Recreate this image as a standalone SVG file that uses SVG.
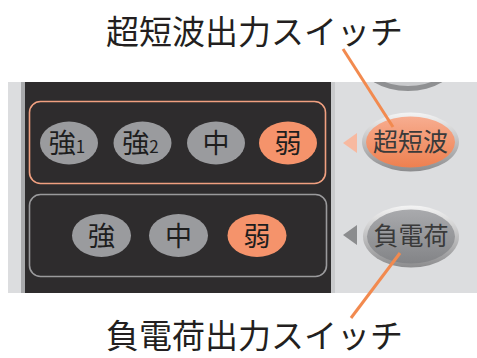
<svg xmlns="http://www.w3.org/2000/svg" width="477" height="358" viewBox="0 0 477 358">
<style>
.t{font-family:"Noto Sans CJK JP","Noto Sans CJK SC",sans-serif;fill:#231f20}
.title{font-size:33px}
.btn{font-size:27px;text-anchor:middle;fill:#1e1e1e}
.sub{font-size:17px}
.rb{font-size:25px;text-anchor:middle;fill:#3a3a3a}
.g{fill:#9a9b9e}
.o{fill:#f5936b}
.lead{stroke:#f28a4f;stroke-width:3;fill:none}
</style>
<defs>
<linearGradient id="og" x1="0" y1="0" x2="0" y2="1">
<stop offset="0" stop-color="#f7ad90"/>
<stop offset="1" stop-color="#ee8050"/>
</linearGradient>
<linearGradient id="gg" x1="0" y1="0" x2="0" y2="1">
<stop offset="0" stop-color="#a9aaad"/>
<stop offset="1" stop-color="#838487"/>
</linearGradient>
<linearGradient id="rim" x1="0" y1="0" x2="0" y2="1">
<stop offset="0" stop-color="#f4f4f4"/>
<stop offset="1" stop-color="#8c8c8e"/>
</linearGradient>
<clipPath id="pc"><rect x="0" y="82" width="477" height="211"/></clipPath>
</defs>
<rect width="477" height="358" fill="#ffffff"/>
<g id="panel">
<rect x="8" y="82" width="469" height="211" fill="#dcdddf"/>
<rect x="21" y="82" width="4" height="211" fill="#a9aaac"/>
<rect x="25" y="82" width="306" height="211" fill="#2e2c2d"/>
<rect x="331" y="82" width="4" height="211" fill="#c9cacc"/>
</g>
<g id="top-button" clip-path="url(#pc)">
<ellipse cx="408" cy="61" rx="48" ry="30" fill="#8f9092"/>
<ellipse cx="408" cy="59" rx="44" ry="27" fill="#c9cacc"/>
</g>
<g id="group-ultrasonic">
<rect x="29.5" y="101.5" width="296" height="82" rx="11" fill="none" stroke="#f0a080" stroke-width="1.6"/>
</g>
<g id="group-negative">
<rect x="29.5" y="194.5" width="297" height="82" rx="11" fill="none" stroke="#9a9a9c" stroke-width="1.6"/>
</g>
<g id="btn-u-strong1"><ellipse class="g" cx="69" cy="143" rx="29" ry="21.5"/><text class="t btn" x="67" y="153">強<tspan class="sub">1</tspan></text></g>
<g id="btn-u-strong2"><ellipse class="g" cx="142.5" cy="143" rx="29" ry="21.5"/><text class="t btn" x="140.5" y="153">強<tspan class="sub">2</tspan></text></g>
<g id="btn-u-mid"><ellipse class="g" cx="216" cy="143" rx="29" ry="21.5"/><text class="t btn" x="216" y="153">中</text></g>
<g id="btn-u-weak"><ellipse class="o" cx="288" cy="143" rx="29" ry="21.5"/><text class="t btn" x="288" y="153">弱</text></g>
<g id="btn-n-strong"><ellipse class="g" cx="101.5" cy="235.5" rx="29.5" ry="21.5"/><text class="t btn" x="101.5" y="245.5">強</text></g>
<g id="btn-n-mid"><ellipse class="g" cx="178.5" cy="235.5" rx="29.5" ry="21.5"/><text class="t btn" x="178.5" y="245.5">中</text></g>
<g id="btn-n-weak"><ellipse class="o" cx="257" cy="235.5" rx="29.5" ry="21.5"/><text class="t btn" x="257" y="245.5">弱</text></g>
<g id="switch-ultrasonic">
<polygon points="343,143 357,133 357,153" fill="#f7b9a0"/>
<ellipse cx="410.5" cy="142" rx="48.5" ry="29.5" fill="url(#rim)"/>
<ellipse cx="410.5" cy="142" rx="44.5" ry="25.5" fill="url(#og)"/>
<text class="t rb" x="410.5" y="151">超短波</text>
</g>
<g id="switch-negative">
<polygon points="343,235 357,225 357,245" fill="#8b8c8e"/>
<ellipse cx="411" cy="236.5" rx="48" ry="31" fill="url(#rim)"/>
<ellipse cx="411" cy="236.5" rx="44" ry="27" fill="url(#gg)"/>
<text class="t rb" x="411" y="245">負電荷</text>
</g>
<g id="connectors">
<line class="lead" x1="343" y1="49" x2="393" y2="127"/>
<line class="lead" x1="400" y1="253" x2="351" y2="318"/>
</g>
<g id="labels">
<text class="t title" x="106" y="44">超短波出力スイッチ</text>
<text class="t title" x="106" y="348">負電荷出力スイッチ</text>
</g>
</svg>
